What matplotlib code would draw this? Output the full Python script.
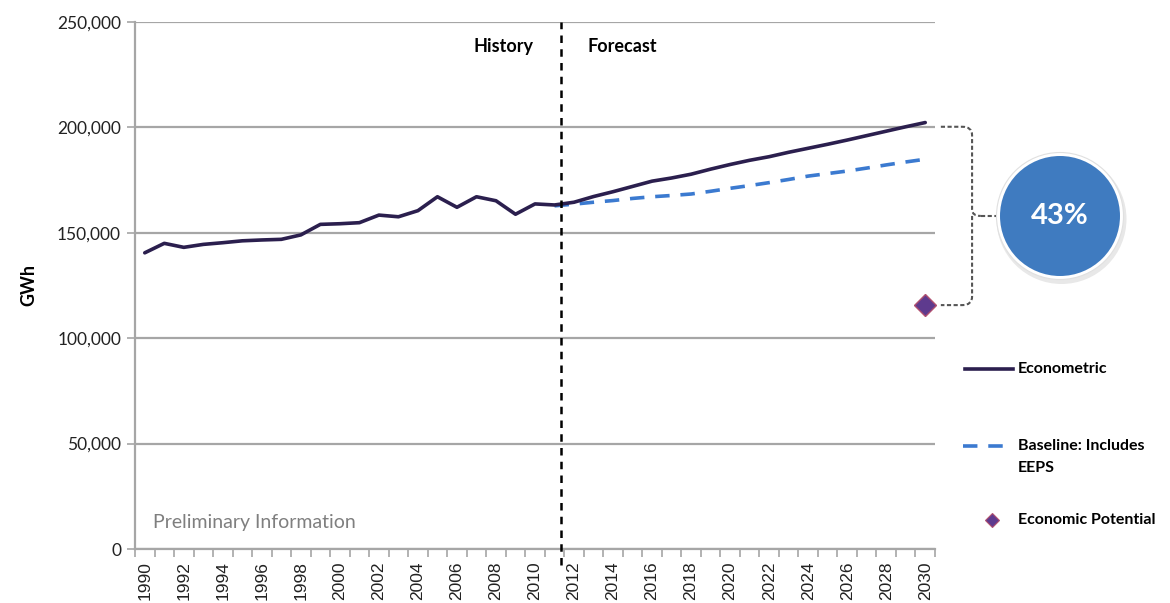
import matplotlib.pyplot as plt
import numpy as np
from matplotlib.lines import Line2D
from matplotlib.patches import Circle
from matplotlib.path import Path
import matplotlib.patches as mpatches

years = np.arange(1990, 2031)

econometric = [140500, 145000, 143100, 144500, 145300, 146200, 146600, 146900, 149000, 154000,
               154300, 154800, 158400, 157600, 160500, 167100, 162100, 167100, 165200, 158800,
               163700, 163200, 164500, 167200, 169500, 172000, 174500, 176000, 177800, 180200,
               182400, 184400, 186100, 188200, 190100, 192000, 194000, 196100, 198200, 200300,
               202300]
baseline_years = np.arange(2011, 2031)
baseline = [162800, 163600, 164500, 165300, 166300, 167100, 167700, 168400, 169700, 171100,
            172400, 173800, 175300, 176900, 178100, 179300, 180700, 182200, 183600, 184900]
potential_year = 2030
potential = 115700
share_label = "43%"

navy = '#2b1f4e'
blue = '#3b7ad0'
grid = '#a6a6a6'
calibri = ['Lato', 'DejaVu Sans']
arial = ['Liberation Sans', 'DejaVu Sans']

fig = plt.figure(figsize=(11.7, 6.03), dpi=100)
ax = fig.add_axes([135/1170, 1-549/603, 800/1170, 527/603])

x = years - 1990
ax.plot(x, econometric, '-', color=navy, lw=2.6, zorder=4, solid_capstyle='round')
ax.plot(baseline_years - 1990, baseline, '--', color=blue, lw=2.6, dashes=(4, 3), zorder=3)
ax.plot([potential_year - 1990], [potential], marker='D', ms=11, color='#5e3a8e',
        mec='#b05070', mew=1, zorder=5, clip_on=False)

ax.set_xlim(-0.5, 40.5)
ax.set_ylim(0, 250000)
yt = np.arange(0, 250001, 50000)
ax.set_yticks(yt)
ax.set_yticklabels(['{:,}'.format(v) for v in yt], fontsize=12.5, family=calibri, color='#222222')
ax.yaxis.grid(True, color=grid, lw=1.6)
ax.set_axisbelow(True)

ax.set_xticks(np.arange(0, 41, 2))
ax.set_xticklabels([str(y) for y in range(1990, 2031, 2)], rotation=90, fontsize=12.5,
                   family=arial, color='#222222')
ax.set_xticks(np.arange(-0.5, 41, 1), minor=True)
ax.tick_params(axis='x', which='major', length=0, pad=9)
ax.tick_params(axis='x', which='minor', length=6, color=grid, width=1.2)
ax.tick_params(axis='y', length=6, color=grid, width=1.2, pad=4)

for s in ['top', 'right']:
    ax.spines[s].set_visible(False)
for s in ['left', 'bottom']:
    ax.spines[s].set_color(grid)
    ax.spines[s].set_linewidth(1.6)

ax.set_ylabel('GWh', fontsize=13, fontweight='bold', family=calibri, labelpad=14)

# history / forecast divider
ax.axvline(21.35, ymin=-0.03, ymax=1, color='black', lw=1.8, ls=(0, (3, 2.5)), clip_on=False, zorder=6)
ax.text(19.9, 238500, 'History', ha='right', va='center', fontsize=13, fontweight='bold', family=calibri)
ax.text(22.7, 238500, 'Forecast', ha='left', va='center', fontsize=13, fontweight='bold', family=calibri)
ax.text(0.4, 12500, 'Preliminary Information', ha='left', va='center', fontsize=14,
        color='#7f7f7f', family=calibri)

# bracket between econometric end and economic potential
top = econometric[-1] - 2000
bot = potential
mid = (top + bot) / 2
xb = 42.4
verts = [(40.8, top), (41.9, top), (xb, top), (xb, top - 4000), (xb, mid + 3000),
         (xb, mid), (xb + 0.45, mid), (xb, mid), (xb, mid - 3000), (xb, bot + 4000),
         (xb, bot), (41.9, bot), (40.8, bot)]
codes = [Path.MOVETO, Path.LINETO, Path.CURVE3, Path.CURVE3, Path.LINETO,
         Path.CURVE3, Path.CURVE3, Path.MOVETO, Path.LINETO, Path.LINETO,
         Path.CURVE3, Path.CURVE3, Path.LINETO]
bracket = mpatches.PathPatch(Path(verts, codes), fill=False, ec='#555555', lw=1.5,
                             ls=(0, (2, 1.2)), clip_on=False)
ax.add_patch(bracket)
ax.plot([xb + 0.45, 44.0], [mid, mid], color='#555555', lw=1.5, ls=(0, (2, 1.2)), clip_on=False)

# circle callout
cx, cy, r = 10.6, (603 - 216) / 100, 0.6
fig.add_artist(Circle((cx + 0.015, cy - 0.03), r + 0.05, transform=fig.dpi_scale_trans,
                      fc='#cccccc', ec='none', alpha=0.45))
fig.add_artist(Circle((cx, cy), r + 0.035, transform=fig.dpi_scale_trans, fc='white', ec='#e0e0e0', lw=0.8))
fig.add_artist(Circle((cx, cy), r, transform=fig.dpi_scale_trans, fc='#3f7bc0', ec='none'))
fig.text(cx / 11.7, cy / 6.03, share_label, ha='center', va='center', fontsize=21,
         fontweight='bold', color='white', family=calibri)

# legend
def fx(px):
    return px / 1170

def fy(py):
    return 1 - py / 603

fig.add_artist(Line2D([fx(965), fx(1013)], [fy(369), fy(369)], color=navy, lw=2.6))
fig.text(fx(1018), fy(369), 'Econometric', ha='left', va='center', fontsize=11.5,
         fontweight='bold', family=calibri)
fig.add_artist(Line2D([fx(963), fx(1003)], [fy(446), fy(446)], color=blue, lw=2.6, dashes=(4, 3)))
fig.text(fx(1018), fy(446), 'Baseline: Includes', ha='left', va='center', fontsize=11.5,
         fontweight='bold', family=calibri)
fig.text(fx(1018), fy(468), 'EEPS', ha='left', va='center', fontsize=11.5,
         fontweight='bold', family=calibri)
fig.add_artist(Line2D([fx(992)], [fy(520)], marker='D', ms=7, color='#5e3a8e', mec='#b05070', mew=0.8))
fig.text(fx(1018), fy(520), 'Economic Potential', ha='left', va='center', fontsize=11.5,
         fontweight='bold', family=calibri)

plt.savefig('out.png', dpi=100)
